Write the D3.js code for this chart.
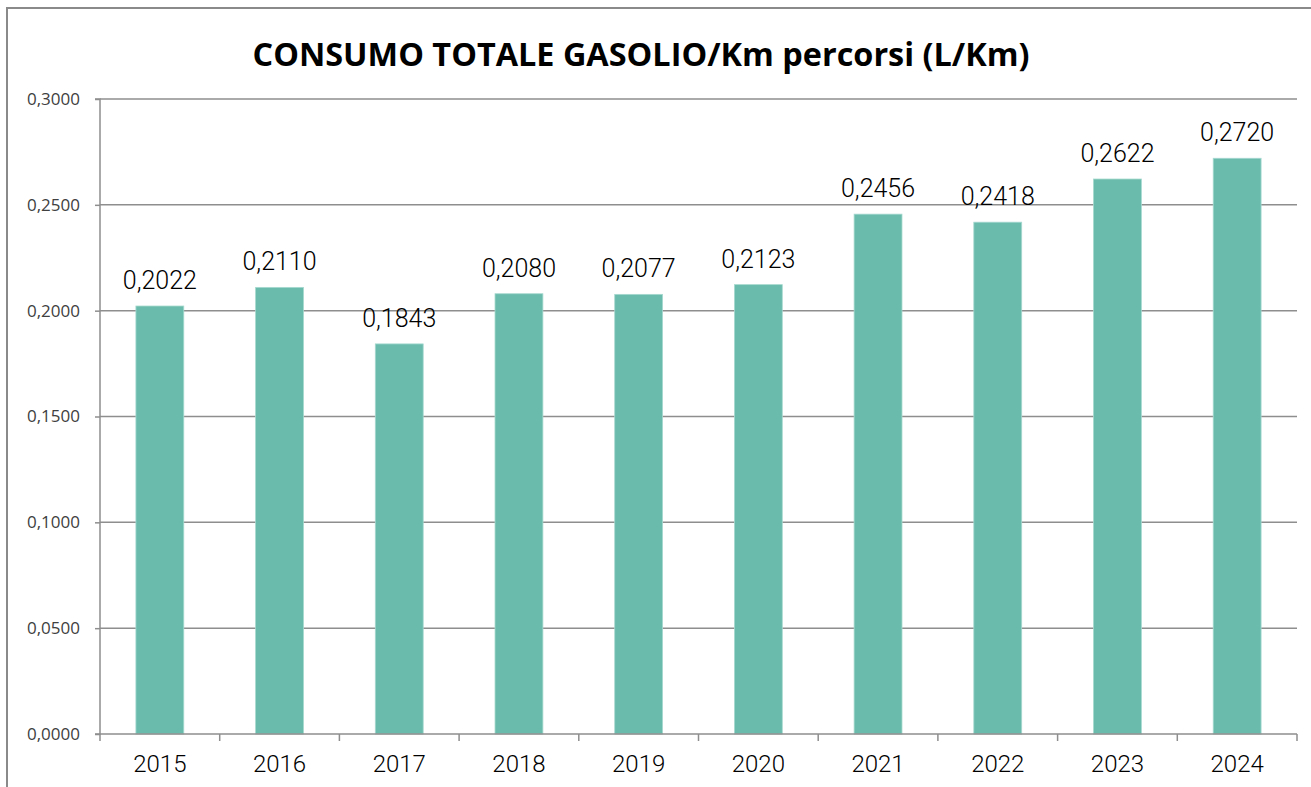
<!DOCTYPE html>
<html>
<head>
<meta charset="utf-8">
<script src="https://cdn.jsdelivr.net/npm/d3@7"></script>
<style>
  body { margin: 0; background: #fff; }
  svg { display: block; }
</style>
</head>
<body>
<svg id="chart"></svg>
<script>
const years = ['2015', '2016', '2017', '2018', '2019', '2020', '2021', '2022', '2023', '2024'];
const values = [0.2022, 0.2110, 0.1843, 0.2080, 0.2077, 0.2123, 0.2456, 0.2418, 0.2622, 0.2720];
const yTicks = [0, 0.05, 0.10, 0.15, 0.20, 0.25, 0.30];
const title = 'CONSUMO TOTALE GASOLIO/Km percorsi (L/Km)';

const W = 1311, H = 787;
const margin = { top: 99, bottom: 53, left: 100, right: 14 };
const width = W - margin.left - margin.right;
const height = H - margin.top - margin.bottom;

const fmt = v => d3.format('.4f')(v).replace('.', ',');

const svg = d3.select('#chart').attr('width', W).attr('height', H);

// outer chart border (right/bottom fall outside the picture)
svg.append('rect')
    .attr('x', 7).attr('y', 8)
    .attr('width', W + 20).attr('height', H + 20)
    .attr('fill', 'none')
    .attr('stroke', '#8a8a8a')
    .attr('stroke-width', 2);

svg.append('text')
    .attr('x', 641).attr('y', 66)
    .attr('text-anchor', 'middle')
    .attr('font-family', '"Open Sans", sans-serif')
    .attr('font-weight', 'bold')
    .attr('font-size', 33)
    .attr('textLength', 777)
    .attr('lengthAdjust', 'spacingAndGlyphs')
    .attr('fill', '#000')
    .text(title);

const chart = svg.append('g')
    .attr('transform', `translate(${margin.left}, ${margin.top})`);

const xScale = d3.scaleBand()
    .domain(years)
    .range([0, width])
    .paddingInner(0.6)
    .paddingOuter(0.3);

const yScale = d3.scaleLinear()
    .domain([0, 0.3])
    .range([height, 0]);

// gridlines
chart.append('g')
    .selectAll('line')
    .data(yTicks.slice(1))
    .join('line')
    .attr('x1', 0).attr('x2', width)
    .attr('y1', d => yScale(d)).attr('y2', d => yScale(d))
    .attr('stroke', '#8e8e8e')
    .attr('stroke-width', 1.5);

// y axis
const yAxisG = chart.append('g')
    .call(d3.axisLeft(yScale).tickValues(yTicks).tickFormat(fmt).tickSize(5).tickPadding(15));
yAxisG.selectAll('line, path').attr('stroke', '#8e8e8e').attr('stroke-width', 1.5);
yAxisG.select('.domain').attr('d', `M-5,${height}H0V0H-5`);
yAxisG.selectAll('text')
    .attr('font-family', '"Open Sans", sans-serif')
    .attr('font-size', 17)
    .attr('fill', '#404040');

// bars
chart.selectAll('.bar')
    .data(years)
    .join('rect')
    .attr('class', 'bar')
    .attr('x', d => xScale(d))
    .attr('y', (d, i) => yScale(values[i]))
    .attr('width', xScale.bandwidth())
    .attr('height', (d, i) => height - yScale(values[i]))
    .attr('fill', '#6bbbad')
    .attr('stroke', '#a6d9cf')
    .attr('stroke-width', 0.8);

// x axis
const xAxisG = chart.append('g')
    .attr('transform', `translate(0, ${height})`);
xAxisG.append('line')
    .attr('x1', 0).attr('x2', width)
    .attr('stroke', '#8e8e8e').attr('stroke-width', 1.5);
xAxisG.selectAll('.xtick')
    .data(d3.range(years.length + 1))
    .join('line')
    .attr('class', 'xtick')
    .attr('x1', i => i * width / years.length).attr('x2', i => i * width / years.length)
    .attr('y1', 0).attr('y2', 7)
    .attr('stroke', '#8e8e8e').attr('stroke-width', 1.5);
xAxisG.selectAll('.xlabel')
    .data(years)
    .join('text')
    .attr('class', 'xlabel')
    .attr('x', d => xScale(d) + xScale.bandwidth() / 2)
    .attr('y', 38)
    .attr('text-anchor', 'middle')
    .attr('font-family', 'Roboto, sans-serif')
    .attr('font-weight', 300)
    .attr('font-size', 24)
    .attr('fill', '#000')
    .text(d => d);

// value labels
chart.selectAll('.vlabel')
    .data(years)
    .join('text')
    .attr('class', 'vlabel')
    .attr('x', d => xScale(d) + xScale.bandwidth() / 2)
    .attr('y', (d, i) => yScale(values[i]) - 17)
    .attr('text-anchor', 'middle')
    .attr('font-family', 'Roboto, sans-serif')
    .attr('font-weight', 300)
    .attr('font-size', 25)
    .attr('fill', '#000')
    .text((d, i) => fmt(values[i]));
</script>
</body>
</html>
